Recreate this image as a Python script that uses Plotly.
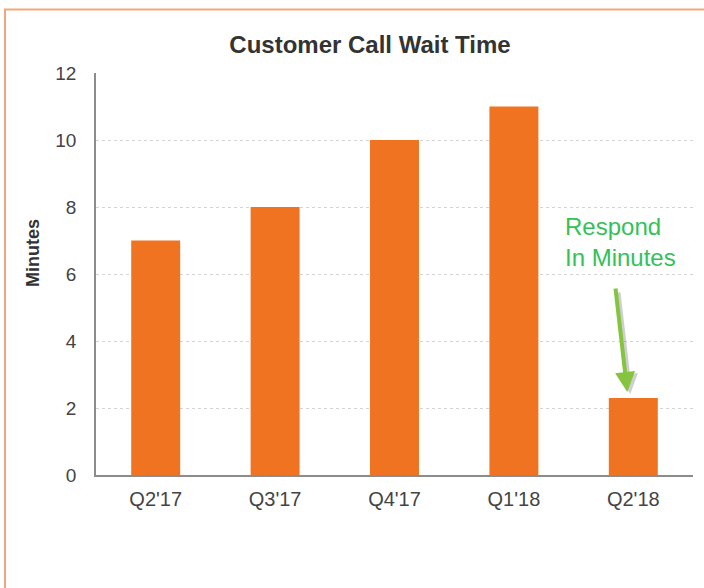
import plotly.graph_objects as go

quarters = ["Q2'17", "Q3'17", "Q4'17", "Q1'18", "Q2'18"]
wait_minutes = [7, 8, 10, 11, 2.3]
y_ticks = [0, 2, 4, 6, 8, 10, 12]

FONT = "Liberation Sans, Arial, sans-serif"

fig = go.Figure()
fig.add_trace(go.Bar(
    x=quarters, y=wait_minutes,
    marker=dict(color="#F07322", line=dict(width=0)),
    width=0.41,
))

fig.update_layout(
    width=704, height=588,
    margin=dict(l=96, r=11, t=73, b=113),
    paper_bgcolor="white", plot_bgcolor="white",
    showlegend=False,
    font=dict(family=FONT, color="#333333"),
    title=dict(text="<b>Customer Call Wait Time</b>", x=0.459, xref="paper", xanchor="center",
               y=1 - 45 / 588, yanchor="middle",
               font=dict(size=24, color="#333333", family=FONT)),
    xaxis=dict(
        showgrid=False, showline=True, linecolor="#8c8c8c", linewidth=1.5,
        ticks="", tickfont=dict(size=20, color="#444444"), ticklabelstandoff=5,
        range=[-0.5, 4.5],
    ),
    yaxis=dict(
        range=[0, 12], tickvals=y_ticks, showgrid=True, gridcolor="#d4d4d4",
        griddash="dot", gridwidth=1, showline=True, linecolor="#8c8c8c", linewidth=1.5,
        ticks="", tickfont=dict(size=19, color="#444444"), ticklabelstandoff=14,
        zeroline=False,
    ),
    shapes=[dict(type="rect", xref="paper", yref="paper",
                 x0=(5 - 96) / 597, x1=1.2, y0=-0.5, y1=(475 - 9.5) / 402,
                 line=dict(color="#F5A57A", width=2), fillcolor="rgba(0,0,0,0)", layer="below")],
    annotations=[
        dict(text="<b>Minutes</b>", xref="paper", yref="paper", x=(33 - 96) / 597, y=0.552,
             textangle=-90, showarrow=False, font=dict(size=18, color="#333333", family=FONT),
             xanchor="center", yanchor="middle"),
        dict(text="Respond<br>In Minutes", x=(563 - 96) / 597, y=6.95, xref="paper", yref="y",
             showarrow=False, xanchor="left", align="left",
             font=dict(size=24, color="#34C15A", family=FONT)),
        # shadow arrow
        dict(text="", x=3.975, y=2.42, xref="x", yref="y", ax=-12, ay=-103,
             showarrow=True, arrowhead=2, arrowsize=1, arrowwidth=4, arrowcolor="rgba(120,120,120,0.35)"),
        dict(text="", x=3.95, y=2.48, xref="x", yref="y", ax=-12, ay=-105,
             showarrow=True, arrowhead=2, arrowsize=1, arrowwidth=4, arrowcolor="#84C43F"),
    ],
    bargap=0.59,
)

fig.write_html("out.html", config={"displayModeBar": False},
               post_script="document.body.style.margin='0';")
